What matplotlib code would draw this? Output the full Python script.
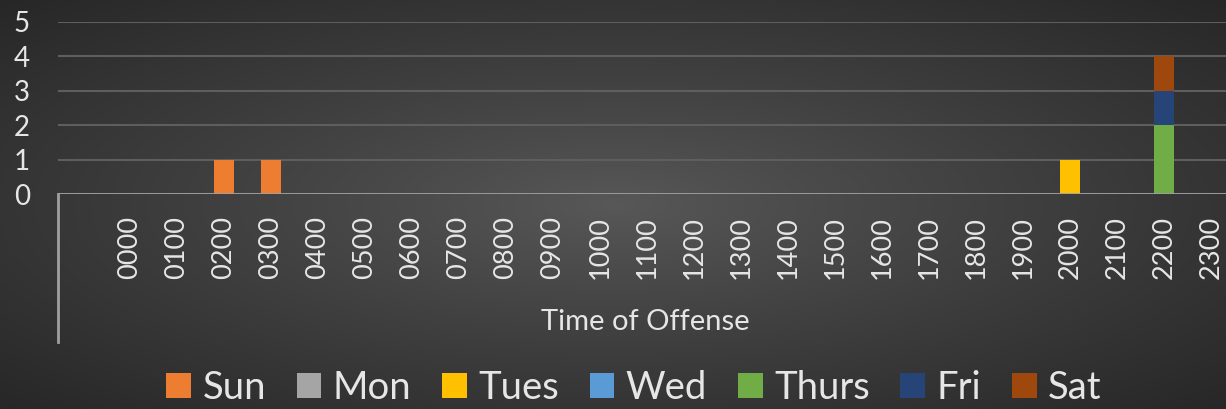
import numpy as np
import matplotlib
matplotlib.use('Agg')
import matplotlib.pyplot as plt
from matplotlib.lines import Line2D

# data
hours = ['%02d00' % h for h in range(24)]
days = ['Sun', 'Mon', 'Tues', 'Wed', 'Thurs', 'Fri', 'Sat']
counts = {
    'Sun':   [0, 0, 1, 1, 0, 0, 0, 0, 0, 0, 0, 0, 0, 0, 0, 0, 0, 0, 0, 0, 0, 0, 0, 0],
    'Mon':   [0] * 24,
    'Tues':  [0, 0, 0, 0, 0, 0, 0, 0, 0, 0, 0, 0, 0, 0, 0, 0, 0, 0, 0, 0, 1, 0, 0, 0],
    'Wed':   [0] * 24,
    'Thurs': [0, 0, 0, 0, 0, 0, 0, 0, 0, 0, 0, 0, 0, 0, 0, 0, 0, 0, 0, 0, 0, 0, 2, 0],
    'Fri':   [0, 0, 0, 0, 0, 0, 0, 0, 0, 0, 0, 0, 0, 0, 0, 0, 0, 0, 0, 0, 0, 0, 1, 0],
    'Sat':   [0, 0, 0, 0, 0, 0, 0, 0, 0, 0, 0, 0, 0, 0, 0, 0, 0, 0, 0, 0, 0, 0, 1, 0],
}
colors = ['#ED7D31', '#A5A5A5', '#FFC000', '#5B9BD5', '#70AD47', '#264478', '#9E480E']

plt.rcParams['font.family'] = ['Lato', 'DejaVu Sans']
txt = '#e6e6e6'

W, H = 1226, 409
fig = plt.figure(figsize=(W / 100, H / 100), dpi=100)

# radial background
bg = fig.add_axes([0, 0, 1, 1])
yy, xx = np.mgrid[0:H, 0:W]
r = np.sqrt(((xx - W / 2) / (W / 2)) ** 2 + ((yy - H / 2) / (H / 2)) ** 2) / np.sqrt(2)
lev = 0x58 - (0x58 - 0x27) * np.clip(r, 0, 1) ** 0.9
img = np.dstack([lev, lev, lev]) / 255.0
bg.imshow(img, aspect='auto', extent=[0, 1, 0, 1])
bg.set_axis_off()

left = 58 / W
ax = fig.add_axes([left, 1 - 194 / H, 1 - left, (194 - 22) / H])
ax.patch.set_alpha(0)

x = np.arange(len(hours))
bottom = np.zeros(len(hours))
for d, c in zip(days, colors):
    v = np.array(counts[d], dtype=float)
    ax.bar(x, v, 0.42, bottom=bottom, color=c, label=d, zorder=3)
    bottom += v

ax.set_xlim(-1.53, -1.53 + (W - 58) / 47.0)
ax.set_ylim(0, 5)
ax.set_yticks(range(6))
ax.set_xticks(x)
ax.set_xticklabels(hours, rotation=90, fontsize=19.5, color=txt)
ax.tick_params(axis='y', length=0, pad=26, labelsize=20, labelcolor=txt)
ax.tick_params(axis='x', length=0, pad=16)
for lab in ax.get_yticklabels():
    lab.set_ha('center')
ax.grid(axis='y', color='#5e5e5e', linewidth=1.5, zorder=0)
for s in ax.spines.values():
    s.set_visible(False)
ax.axhline(0, color='#a0a0a0', linewidth=2, zorder=4)

ax.set_xlabel('Time of Offense', fontsize=21, color=txt)
ax.xaxis.label.set_va('center')
ax.xaxis.set_label_coords((645 - 58) / (W - 58), (194 - 322) / 172)

# extended category axis line on the left
fig.add_artist(Line2D([left, left], [1 - 194 / H, 1 - 342 / H], color='#a0a0a0', linewidth=2))

fig.legend(loc='center', bbox_to_anchor=(634 / W, 1 - 388 / H), ncol=7, frameon=False,
           fontsize=27.5, labelcolor=txt, handlelength=0.65, handleheight=0.65,
           handletextpad=0.3, columnspacing=0.8, borderaxespad=0)

fig.savefig('out.png', dpi=100)
